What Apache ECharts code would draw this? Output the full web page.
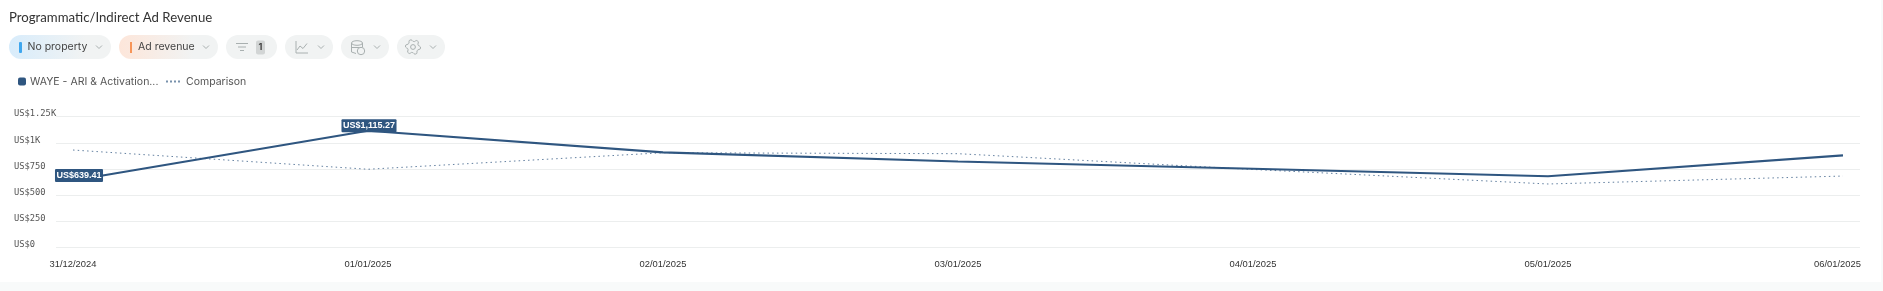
<!DOCTYPE html>
<html><head><meta charset="utf-8">
<style>html,body{margin:0;padding:0;background:#fff;overflow:hidden}#c{width:1883px;height:291px}</style>
<script src="https://cdn.jsdelivr.net/npm/echarts@6/dist/echarts.min.js"></script>
</head><body><div id="c"></div>
<script>
const categories = ['31/12/2024','01/01/2025','02/01/2025','03/01/2025','04/01/2025','05/01/2025','06/01/2025'];
const revenue = [639.41,1115.27,909,821,752,680,880];
const comparison = [931,747,905,896,745,606,682];
const labelledPoints = [0,1];
const yTicks = [0,250,500,750,1000,1250];
const revenueName = 'WAYE - ARI & Activation...';
const comparisonName = 'Comparison';
const NAVY = '#2f5680', FONT = 'Inter, "Noto Sans", sans-serif', NARROW = '"Liberation Sans", sans-serif', PILL = '#f1f3f3', ICON = '#a9b0b0';

const fmtY = v => v >= 1000 ? 'US$' + (v / 1000) + 'K' : 'US$' + v;
const fmtMoney = v => 'US$' + v.toLocaleString('en-US', {minimumFractionDigits: 2, maximumFractionDigits: 2});
const chart = echarts.init(document.getElementById('c'), null, {renderer: 'canvas'});

function pill(x, w, from) {
  return {type: 'rect', shape: {x, y: 35, width: w, height: 24, r: 12}, silent: true, style: {
    fill: from ? new echarts.graphic.LinearGradient(0, 0, 1, 0, [{offset: 0, color: from}, {offset: 0.75, color: PILL}]) : PILL}};
}
function chevron(x) {
  return {type: 'polyline', shape: {points: [[x - 3, 45.5], [x, 48.5], [x + 3, 45.5]]}, silent: true, style: {stroke: '#a9b0b0', lineWidth: 1, fill: null}};
}
function hline(x1, x2, y) {
  return {type: 'line', shape: {x1, y1: y, x2, y2: y}, silent: true, style: {stroke: ICON, lineWidth: 1}};
}
function txt(x, y, text, size, fill, weight, family) {
  return {type: 'text', x, y, silent: true, style: {text, fill, font: (weight || 400) + ' ' + size + 'px ' + (family || FONT), textVerticalAlign: 'middle'}};
}
function gear(cx, cy) {
  const pts = [];
  for (let i = 0; i < 48; i++) {
    const phase = i % 8, r = (phase < 3) ? 7.5 : (phase === 3 || phase === 7) ? 6.6 : 5.6;
    const a = i / 48 * Math.PI * 2;
    pts.push([cx + r * Math.cos(a), cy + r * Math.sin(a)]);
  }
  return {type: 'polygon', shape: {points: pts}, silent: true, style: {stroke: ICON, lineWidth: 1, fill: null}};
}
const chrome = [
  {type: 'rect', shape: {x: 0, y: 282, width: 1883, height: 9}, silent: true, style: {fill: '#f8fafa'}},
  {type: 'rect', shape: {x: 1881, y: 0, width: 2, height: 291}, silent: true, style: {fill: '#f8fafa'}},
  txt(9, 17.5, 'Programmatic/Indirect Ad Revenue', 13.2, '#333', 400, 'Lato, sans-serif'),
  pill(9, 102, '#d8ecfb'),
  {type: 'rect', shape: {x: 19, y: 42, width: 3, height: 11, r: 1}, silent: true, style: {fill: '#3ea6ee'}},
  txt(27.5, 47, 'No property', 10.5, '#444'), chevron(99),
  pill(119, 99, '#fde6da'),
  {type: 'rect', shape: {x: 130, y: 42, width: 2, height: 11}, silent: true, style: {fill: '#f79559'}},
  txt(138, 47, 'Ad revenue', 10.5, '#444'), chevron(206),
  pill(226, 51),
  hline(236, 248, 43.5), hline(238, 246, 47), hline(240, 244, 50.5),
  {type: 'rect', shape: {x: 256, y: 40.5, width: 9, height: 14, r: 2}, silent: true, style: {fill: '#d2d5d5'}},
  txt(258.5, 47.5, '1', 9, '#444', 700),
  pill(285, 48),
  {type: 'polyline', shape: {points: [[296, 41], [296, 53], [308, 53]]}, silent: true, style: {stroke: ICON, lineWidth: 1, fill: null}},
  {type: 'polyline', shape: {points: [[297, 50], [300, 46], [303, 48.5], [307, 43.5]]}, silent: true, style: {stroke: ICON, lineWidth: 1, fill: null}},
  chevron(321),
  pill(341, 48),
  {type: 'ellipse', shape: {cx: 357, cy: 43, rx: 5.5, ry: 2.3}, silent: true, style: {stroke: ICON, lineWidth: 1, fill: null}},
  {type: 'polyline', shape: {points: [[351.5, 43], [351.5, 52], [356, 53.5]]}, silent: true, style: {stroke: ICON, lineWidth: 1, fill: null}},
  hline(351.5, 362, 47.5),
  {type: 'line', shape: {x1: 362.5, y1: 43, x2: 362.5, y2: 47.5}, silent: true, style: {stroke: ICON, lineWidth: 1}},
  {type: 'circle', shape: {cx: 361, cy: 51, r: 3.7}, silent: true, style: {stroke: ICON, lineWidth: 1, fill: PILL}},
  chevron(377),
  pill(397, 48),
  gear(413, 47),
  {type: 'circle', shape: {cx: 413, cy: 47, r: 2.4}, silent: true, style: {stroke: ICON, lineWidth: 1, fill: null}},
  chevron(433)
];

const xPad = 17 / 295;
chart.setOption({
  animation: false,
  backgroundColor: '#fff',
  textStyle: {fontFamily: FONT},
  graphic: {elements: chrome},
  legend: [
    {left: 18, top: 76, data: [revenueName], icon: 'roundRect', itemWidth: 8, itemHeight: 8, itemGap: 0, padding: 0,
     textStyle: {color: '#555', fontSize: 10.5, fontFamily: FONT, padding: [0, 0, 0, -1]}, selectedMode: false},
    {left: 166, top: 76, data: [comparisonName],
     icon: 'path://M0 0h2v2h-2z M4 0h2v2h-2z M8 0h2v2h-2z M12 0h2v2h-2z',
     itemWidth: 14, itemHeight: 2, padding: 0,
     itemStyle: {opacity: 0.65},
     textStyle: {color: '#555', fontSize: 10.5, fontFamily: FONT, padding: [0, 0, 0, 1]}, selectedMode: false}
  ],
  grid: {left: 56, right: 23, top: 116.7, bottom: 43.7},
  xAxis: {
    type: 'value', min: -xPad, max: categories.length - 1 + xPad,
    splitLine: {show: false}, axisLine: {show: false}, axisTick: {show: false},
    axisLabel: {
      customValues: categories.map((_, i) => i), margin: 13, color: '#333', fontSize: 9.4, fontFamily: NARROW,
      formatter: v => v === categories.length - 1 ? '{last|' + categories[v] + '}' : categories[v],
      rich: {last: {color: '#333', fontSize: 9.4, fontFamily: NARROW, padding: [0, 11, 0, 0]}}
    }
  },
  yAxis: {
    type: 'value', min: 0, max: 1250, interval: 250,
    axisLine: {show: false}, axisTick: {show: false},
    splitLine: {lineStyle: {color: '#eceeee', width: 1}},
    axisLabel: {
      customValues: yTicks, formatter: fmtY, align: 'left', margin: 42, color: '#555', fontSize: 8.75,
      fontFamily: '"DejaVu Sans Mono", monospace', verticalAlign: 'bottom', lineHeight: 5
    }
  },
  series: [
    {name: comparisonName, type: 'line', z: 2, symbol: 'none', silent: true,
     lineStyle: {color: NAVY, width: 1, type: [1.5, 3.2], opacity: 0.75},
     itemStyle: {color: NAVY},
     data: comparison.map((v, i) => [i, v])},
    {name: revenueName, type: 'line', z: 3, symbol: 'circle', symbolSize: 0, showSymbol: true, showAllSymbol: true, silent: true,
     lineStyle: {color: NAVY, width: 2.2}, itemStyle: {color: NAVY},
     label: {show: false},
     data: revenue.map((v, i) => ({
       value: [i, v],
       label: {
         show: labelledPoints.includes(i), position: 'top', distance: 0,
         offset: i === 0 ? [6, 1.5] : [1, 1.5],
         formatter: fmtMoney(v), color: '#fff', backgroundColor: NAVY, borderRadius: 1,
         fontSize: 9, fontWeight: 700, fontFamily: NARROW, padding: [2, 1.5, 2, 1.5]
       }
     }))}
  ]
});
</script></body></html>
